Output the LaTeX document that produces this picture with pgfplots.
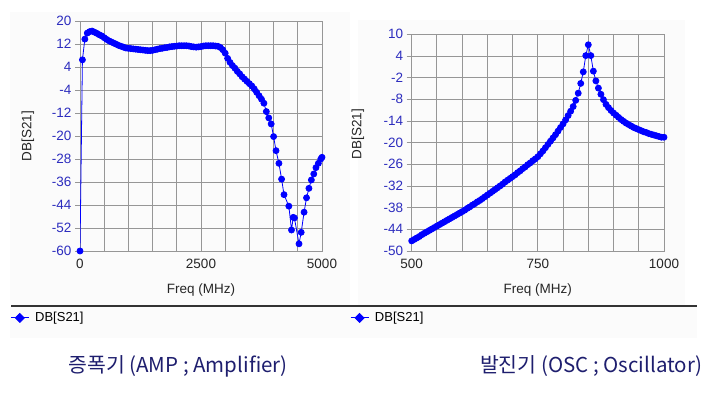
\documentclass[border=0pt]{standalone}
\usepackage{pgfplots}
\pgfplotsset{compat=1.18}
\usepackage{fontspec}
\setmainfont{Liberation Sans}
\newfontfamily\kr{Noto Sans CJK KR}
\definecolor{tickblue}{RGB}{45,45,190}
\definecolor{gridgray}{RGB}{150,150,150}
\definecolor{capnavy}{RGB}{30,30,110}
\definecolor{panel}{RGB}{251,251,251}
\definecolor{ptblue}{RGB}{0,0,255}

\pgfplotstableread{
x y
0 -60
50 6.5
100 13.7
150 15.8
200 16.3
250 16.5
300 16.1
350 15.7
400 15.2
450 14.8
500 14.2
550 13.6
600 13.1
650 12.7
700 12.3
750 11.9
800 11.5
850 11.2
900 10.9
950 10.6
1000 10.5
1050 10.4
1100 10.3
1150 10.2
1200 10.1
1250 10.0
1300 9.9
1350 9.8
1400 9.7
1450 9.7
1500 9.8
1550 10.0
1600 10.2
1650 10.4
1700 10.5
1750 10.7
1800 10.8
1850 11.0
1900 11.1
1950 11.2
2000 11.3
2050 11.4
2100 11.4
2150 11.4
2200 11.4
2250 11.3
2300 11.1
2350 11.0
2400 10.9
2450 11.0
2500 11.1
2550 11.3
2600 11.4
2650 11.4
2700 11.4
2750 11.4
2800 11.3
2850 11.2
2900 10.8
2950 10.0
3000 8.8
3050 7.0
3100 5.6
3150 4.5
3200 3.6
3250 2.5
3300 1.6
3350 0.6
3400 -0.2
3450 -1.0
3500 -1.8
3550 -2.6
3600 -3.6
3650 -4.8
3700 -6.0
3750 -7.2
3800 -8.6
3850 -11.5
3900 -13.7
3950 -15.8
4000 -20.2
4050 -25.1
4110 -29.5
4165 -35.0
4215 -40.4
4315 -44.4
4370 -52.7
4405 -48.3
4430 -48.5
4525 -57.5
4570 -53.5
4630 -46.5
4680 -41.5
4730 -38.2
4780 -35.3
4830 -33.2
4875 -31.0
4925 -29.5
4975 -28.0
5000 -27.4
}\ampdata

\pgfplotstableread{
x y
500 -47.2
505 -46.8
510 -46.4
515 -46.0
520 -45.5
525 -45.1
530 -44.7
535 -44.3
540 -43.9
545 -43.5
550 -43.1
555 -42.7
560 -42.3
565 -41.9
570 -41.5
575 -41.1
580 -40.7
585 -40.3
590 -39.9
595 -39.5
600 -39.1
605 -38.7
610 -38.2
615 -37.8
620 -37.3
625 -36.9
630 -36.4
635 -36.0
640 -35.5
645 -35.0
650 -34.5
655 -34.0
660 -33.5
665 -33.0
670 -32.5
675 -32.0
680 -31.5
685 -30.9
690 -30.4
695 -29.9
700 -29.4
705 -28.9
710 -28.3
715 -27.8
720 -27.2
725 -26.7
730 -26.1
735 -25.6
740 -25.0
745 -24.5
750 -23.9
755 -23.1
760 -22.3
765 -21.4
770 -20.5
775 -19.6
780 -18.7
785 -17.8
790 -16.8
795 -15.8
800 -14.8
805 -13.7
810 -12.5
815 -11.3
820 -10.0
825 -8.3
830 -6.3
835 -3.6
840 -0.4
845 4.1
850 7.1
855 4.1
860 -0.2
865 -2.9
870 -4.9
875 -6.6
880 -8.1
885 -9.4
890 -10.3
895 -11.1
900 -11.8
905 -12.4
910 -13.0
915 -13.6
920 -14.1
925 -14.6
930 -15.0
935 -15.4
940 -15.8
945 -16.1
950 -16.4
955 -16.7
960 -17.0
965 -17.2
970 -17.5
975 -17.7
980 -17.9
985 -18.1
990 -18.3
995 -18.5
1000 -18.5
}\oscdata

\pgfplotsset{
  mystyle/.style={
    scale only axis,
    anchor=south west,
    /pgf/number format/assume math mode=true,
    grid=major,
    grid style={gridgray, line width=0.9pt},
    axis line style={gridgray, line width=0.9pt},
    tick style={gridgray, line width=0.9pt},
    tick align=outside,
    ytick pos=left,
    xtick pos=bottom,
    major tick length=5pt,
    xtick style={draw=none},
    ticklabel style={font=\fontsize{13.5}{15}\selectfont},
    yticklabel style={tickblue},
    xticklabel style={black!85},
    label style={font=\fontsize{13.5}{15}\selectfont, black!85},
    xlabel={Freq (MHz)},
    ylabel={DB[S21]},
    legend style={draw=none, fill=none, font=\fontsize{13}{15}\selectfont, inner sep=0pt, anchor=west},
    legend image code/.code={
      \draw[ptblue, line width=1pt] (0pt,0pt) -- (18pt,0pt);
      \fill[ptblue] (9pt,4.5pt) -- (13.5pt,0pt) -- (9pt,-4.5pt) -- (4.5pt,0pt) -- cycle;
      \path (22pt,0pt);
    },
  },
  myplot/.style={ptblue, line width=0.8pt, mark=*, mark size=3pt, mark options={ptblue, fill=ptblue}},
}

\begin{document}
\begin{tikzpicture}[x=1pt,y=1pt]
\useasboundingbox (0,0) rectangle (714,393);
\fill[panel] (10,88) rectangle (350,381);
\fill[panel] (358,88) rectangle (685,373);
\fill[panel] (10,55) rectangle (697,87);
\draw[black!80, line width=2pt] (11,87.3) -- (697,87.3);

\begin{axis}[mystyle,
  at={(80pt,142pt)}, width=242pt, height=230pt,
  xmin=0, xmax=5000, ymin=-60, ymax=20,
  xtick={0,500,...,5000},
  xticklabels={0,,,,,2500,,,,,5000},
  ytick={-60,-52,...,20},
  xlabel style={at={(axis description cs:0.5,-0.17)}, anchor=center},
  ylabel style={at={(axis description cs:-0.215,0.5)}, anchor=center},
  legend style={at={(axis description cs:-0.289,-0.291)}},
]
\addplot[myplot] table[x=x,y=y] {\ampdata};
\addlegendentry{DB[S21]}
\end{axis}

\begin{axis}[mystyle,
  at={(411.7pt,142pt)}, width=252.3pt, height=216.7pt,
  xmin=500, xmax=1000, ymin=-50, ymax=10,
  xtick={500,550,...,1000},
  xticklabels={500,,,,,750,,,,,1000},
  ytick={-50,-44,...,10},
  xlabel style={at={(axis description cs:0.5,-0.18)}, anchor=center},
  ylabel style={at={(axis description cs:-0.213,0.54)}, anchor=center},
  legend style={at={(axis description cs:-0.245,-0.309)}},
]
\addplot[myplot] table[x=x,y=y] {\oscdata};
\addlegendentry{DB[S21]}
\end{axis}

\node[capnavy, font=\kr\fontsize{20.5}{23}\selectfont, anchor=center] at (178,27) {증폭기 (AMP ; Amplifier)};
\node[capnavy, font=\kr\fontsize{20.5}{23}\selectfont, anchor=center] at (591,27) {발진기 (OSC ; Oscillator)};
\end{tikzpicture}
\end{document}
